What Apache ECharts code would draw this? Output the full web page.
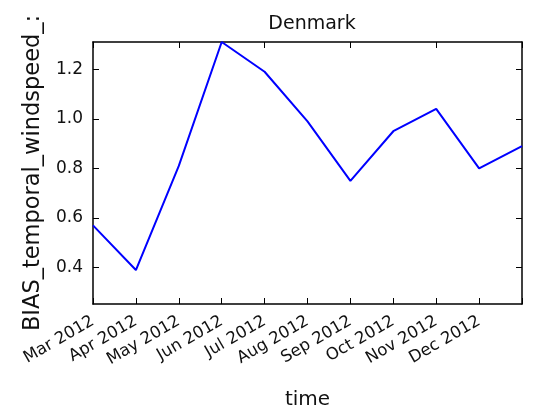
<!DOCTYPE html>
<html>
<head>
    <meta charset="UTF-8">
    <title>Denmark</title>
    <script src="https://cdn.jsdelivr.net/npm/echarts@6/dist/echarts.min.js"></script>
</head>
<body style="margin: 0; background: #fff">
    <div id="container" style="width: 536px; height: 411px"></div>
    <script type="text/javascript">
        // monthly values, Mar 2012 - Jan 2013
        var months = ['Mar 2012', 'Apr 2012', 'May 2012', 'Jun 2012', 'Jul 2012', 'Aug 2012',
            'Sep 2012', 'Oct 2012', 'Nov 2012', 'Dec 2012', 'Jan 2013'];
        var monthLabels = ['Mar 2012', 'Apr 2012', 'May 2012', 'Jun 2012', 'Jul 2012', 'Aug 2012',
            'Sep 2012', 'Oct 2012', 'Nov 2012', 'Dec 2012', ''];
        var bias = [0.57, 0.39, 0.81, 1.31, 1.19, 0.99, 0.75, 0.95, 1.04, 0.80, 0.89];
        var yTicks = [0.4, 0.6, 0.8, 1.0, 1.2];

        var font = 'DejaVu Sans';
        var dom = document.getElementById('container');
        var myChart = echarts.init(dom);

        var axisLine = { show: true, lineStyle: { color: '#000', width: 1.5 } };
        var tick = { show: true, inside: true, length: 6, lineStyle: { color: '#000', width: 1 } };

        var option = {
            animation: false,
            title: {
                text: 'Denmark',
                left: 307,
                top: 10,
                textAlign: 'center',
                textStyle: { fontFamily: font, fontSize: 19, fontWeight: 'normal', color: '#111' }
            },
            grid: { left: 93, right: 14, top: 42, bottom: 107, outerBoundsMode: 'none' },
            xAxis: [{
                type: 'category',
                data: months,
                boundaryGap: false,
                position: 'bottom',
                axisLine: axisLine,
                axisTick: Object.assign({ alignWithLabel: true }, tick),
                splitLine: { show: false },
                axisLabel: {
                    interval: 0,
                    rotate: 30,
                    margin: 16,
                    fontFamily: font,
                    fontSize: 16.5,
                    color: '#111',
                    formatter: function (v, i) { return monthLabels[i]; }
                },
                name: 'time',
                nameLocation: 'middle',
                nameGap: 86,
                nameTextStyle: { fontFamily: font, fontSize: 20, color: '#111' }
            }, {
                type: 'category',
                data: months,
                boundaryGap: false,
                position: 'top',
                axisLine: axisLine,
                axisTick: tick,
                axisLabel: { show: false },
                splitLine: { show: false }
            }],
            yAxis: [{
                type: 'value',
                min: 0.253,
                max: 1.31,
                position: 'left',
                axisLine: axisLine,
                axisTick: Object.assign({ customValues: yTicks }, tick),
                splitLine: { show: false },
                axisLabel: {
                    customValues: yTicks,
                    margin: 10,
                    fontFamily: font,
                    fontSize: 17,
                    color: '#111',
                    formatter: function (v) { return v.toFixed(1); }
                },
                name: 'BIAS_temporal_windspeed_:',
                nameLocation: 'middle',
                nameGap: 46,
                nameTextStyle: { fontFamily: font, fontSize: 22.5, color: '#111' }
            }, {
                type: 'value',
                min: 0.253,
                max: 1.31,
                position: 'right',
                axisLine: axisLine,
                axisTick: Object.assign({ customValues: yTicks }, tick),
                axisLabel: { show: false },
                splitLine: { show: false }
            }],
            series: [{
                type: 'line',
                data: bias,
                showSymbol: false,
                symbol: 'none',
                lineStyle: { color: '#0000ff', width: 2 }
            }]
        };

        myChart.setOption(option);
    </script>
</body>
</html>
